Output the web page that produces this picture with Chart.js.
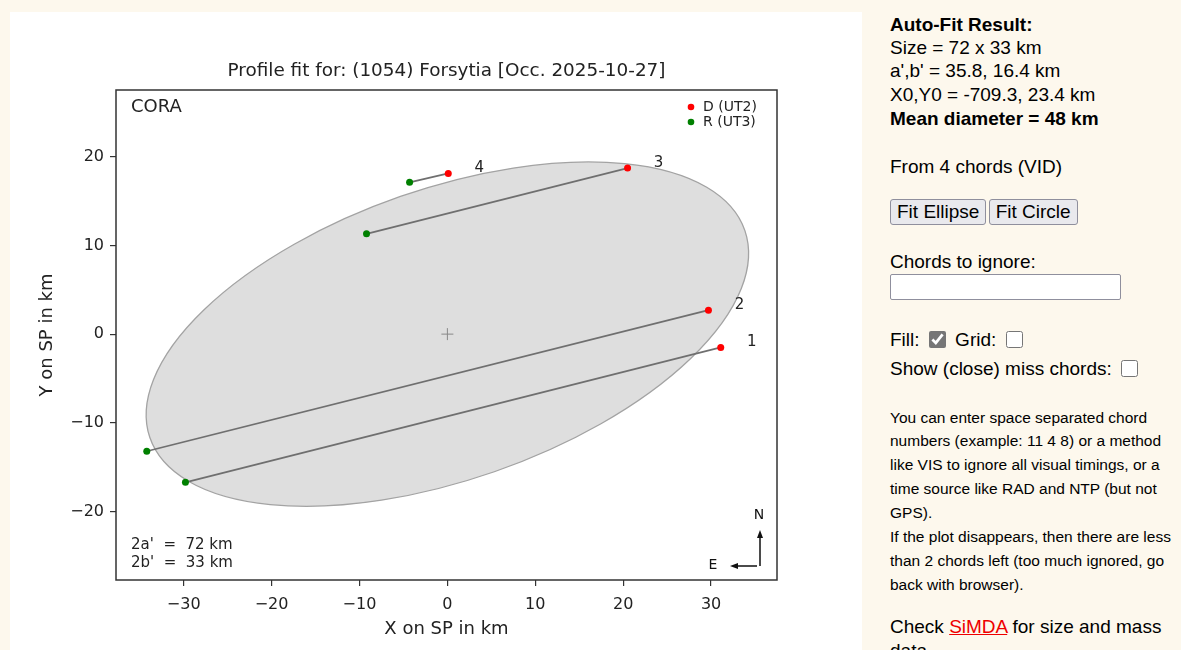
<!DOCTYPE html>
<html>
<head>
<meta charset="utf-8">
<script src="https://cdn.jsdelivr.net/npm/chart.js@4/dist/chart.umd.min.js"></script>
<style>
body{margin:0;background:#fdf8ed;width:1181px;height:650px;overflow:hidden;position:relative;font-family:"Liberation Sans",Arial,sans-serif;color:#000}
#plot{position:absolute;left:10px;top:12px;width:852px;height:638px;background:#fff}
.ln{position:absolute;left:890px;font-size:19px;line-height:22px;white-space:nowrap}
.sm{position:absolute;left:890px;font-size:15.5px;line-height:20px;white-space:nowrap}
button{font-family:"Liberation Sans",Arial,sans-serif;font-size:19px;height:26px;padding:0 6px;background:#e9e9ed;border:1px solid #8f8f9d;border-radius:3px;color:#000}
input[type=text]{position:absolute;left:890px;top:274px;width:227px;height:22px;border:1px solid #8f8f9d;border-radius:2px;padding:1px;background:#fff}
input[type=checkbox]{width:17px;height:17px;margin:0 4px;vertical-align:-2px;accent-color:#767676}
a{color:#e00;text-decoration:underline}
</style>
</head>
<body>
<div id="plot"><canvas id="fit" width="852" height="638"></canvas></div>

<div class="ln" style="top:14px"><b>Auto-Fit Result:</b></div>
<div class="ln" style="top:37px">Size = 72 x 33 km</div>
<div class="ln" style="top:60px">a',b' = 35.8, 16.4 km</div>
<div class="ln" style="top:84px">X0,Y0 = -709.3, 23.4 km</div>
<div class="ln" style="top:108px"><b>Mean diameter = 48 km</b></div>
<div class="ln" style="top:156px">From 4 chords (VID)</div>
<div class="ln" style="top:199px;left:890px"><button>Fit Ellipse</button> <button style="margin-left:-3px">Fit Circle</button></div>
<div class="ln" style="top:251px">Chords to ignore:</div>
<input type="text">
<div class="ln" style="top:329px">Fill: <input type="checkbox" checked> Grid: <input type="checkbox"></div>
<div class="ln" style="top:358px">Show (close) miss chords: <input type="checkbox"></div>
<div class="sm" style="top:408px">You can enter space separated chord</div>
<div class="sm" style="top:431px">numbers (example: 11 4 8) or a method</div>
<div class="sm" style="top:455px">like VIS to ignore all visual timings, or a</div>
<div class="sm" style="top:479px">time source like RAD and NTP (but not</div>
<div class="sm" style="top:503px">GPS).</div>
<div class="sm" style="top:527px">If the plot disappears, then there are less</div>
<div class="sm" style="top:551px">than 2 chords left (too much ignored, go</div>
<div class="sm" style="top:575px">back with browser).</div>
<div class="ln" style="top:616px">Check <a>SiMDA</a> for size and mass</div>
<div class="ln" style="top:640px">data</div>

<script>
// ---- data ----
const xTicks = [-30, -20, -10, 0, 10, 20, 30];
const yTicks = [-20, -10, 0, 10, 20];
const chordNo = ["1", "2", "3", "4"];
const dX = [31.1, 29.7, 20.5, 0.1];     // D (UT2) ends
const dY = [-1.5, 2.7, 18.7, 18.1];
const rX = [-29.8, -34.2, -9.2, -4.3];  // R (UT3) ends
const rY = [-16.7, -13.2, 11.3, 17.1];
const ellCenter = [0, 0];
const ellAB = [35.8, 16.4];
const ellAngle = 19;   // deg
const plotTitle = "Profile fit for: (1054) Forsytia [Occ. 2025-10-27]";
const sizeText = ["2a'  =  72 km", "2b'  =  33 km"];

const DV = "'DejaVu Sans', sans-serif";
const minus = v => v < 0 ? "\u2212" + Math.abs(v) : "" + v;

// ellipse fill drawn under the chords
const ellipsePlugin = {
    id: "ellipse",
    beforeDatasetsDraw(chart){
        const ctx = chart.ctx, xs = chart.scales.x, ys = chart.scales.y, a = chart.chartArea;
        const cx = xs.getPixelForValue(ellCenter[0]), cy = ys.getPixelForValue(ellCenter[1]);
        const kx = xs.getPixelForValue(1) - xs.getPixelForValue(0);
        const ky = ys.getPixelForValue(0) - ys.getPixelForValue(1);
        ctx.save();
        ctx.beginPath();
        ctx.rect(a.left, a.top, a.right - a.left, a.bottom - a.top);
        ctx.clip();
        ctx.beginPath();
        ctx.save();
        ctx.translate(cx, cy);
        ctx.scale(kx, -ky);
        ctx.rotate(ellAngle * Math.PI / 180);
        ctx.ellipse(0, 0, ellAB[0], ellAB[1], 0, 0, 2 * Math.PI);
        ctx.restore();
        ctx.fillStyle = "#dedede";
        ctx.fill();
        ctx.strokeStyle = "#a3a3a3";
        ctx.lineWidth = 1.3;
        ctx.stroke();
        ctx.restore();
    }
};

// frame, title, texts, legend, N/E arrows
const decoPlugin = {
    id: "deco",
    afterDraw(chart){
        const ctx = chart.ctx, a = chart.chartArea, xs = chart.scales.x, ys = chart.scales.y;
        ctx.save();
        ctx.strokeStyle = "#333";
        ctx.lineWidth = 1.5;
        ctx.strokeRect(a.left, a.top, a.right - a.left, a.bottom - a.top);

        ctx.fillStyle = "#222";
        ctx.textBaseline = "middle";
        ctx.textAlign = "center";
        ctx.font = "18.4px " + DV;
        ctx.fillText(plotTitle, (a.left + a.right) / 2, a.top - 19);

        ctx.textAlign = "left";
        ctx.font = "18px " + DV;
        ctx.fillText("CORA", a.left + 15, a.top + 17);

        ctx.font = "15px " + DV;
        ctx.fillText(sizeText[0], a.left + 15, a.bottom - 35);
        ctx.fillText(sizeText[1], a.left + 15, a.bottom - 17);

        // chord numbers next to D points
        ctx.textAlign = "center";
        for(let i = 0; i < chordNo.length; i++){
            ctx.fillText(chordNo[i], xs.getPixelForValue(dX[i]) + 31, ys.getPixelForValue(dY[i]) - 5);
        }

        // legend
        ctx.font = "14px " + DV;
        ctx.textAlign = "left";
        const lx = a.right - 86;
        [["#ff0000", "D (UT2)", a.top + 17], ["#008000", "R (UT3)", a.top + 32]].forEach(e => {
            ctx.fillStyle = e[0];
            ctx.beginPath();
            ctx.arc(lx, e[2], 3.3, 0, 2 * Math.PI);
            ctx.fill();
            ctx.fillStyle = "#222";
            ctx.fillText(e[1], lx + 12, e[2]);
        });

        // N / E arrows
        const ax = a.right - 17, ay = a.bottom - 14;
        ctx.strokeStyle = "#111";
        ctx.fillStyle = "#111";
        ctx.lineWidth = 1.5;
        ctx.beginPath();
        ctx.moveTo(ax, ay); ctx.lineTo(ax, ay - 30);
        ctx.moveTo(ax - 3, ay); ctx.lineTo(ax - 24, ay);
        ctx.stroke();
        ctx.beginPath();
        ctx.moveTo(ax, ay - 36); ctx.lineTo(ax - 3, ay - 28); ctx.lineTo(ax + 3, ay - 28); ctx.closePath();
        ctx.moveTo(ax - 30, ay); ctx.lineTo(ax - 22, ay - 3); ctx.lineTo(ax - 22, ay + 3); ctx.closePath();
        ctx.fill();
        ctx.font = "14px " + DV;
        ctx.textAlign = "center";
        ctx.fillText("N", ax - 1, ay - 51);
        ctx.fillText("E", ax - 47, ay - 1);
        ctx.restore();
    }
};

const chordSets = chordNo.map((n, i) => ({
    label: "chord " + n,
    data: [{x: rX[i], y: rY[i]}, {x: dX[i], y: dY[i]}],
    showLine: true,
    borderColor: "#6f6f6f",
    borderWidth: 1.7,
    pointRadius: 0,
    order: 2
}));

new Chart(document.getElementById("fit"), {
    type: "scatter",
    data: {
        datasets: [
            {
                label: "D (UT2)",
                data: dX.map((x, i) => ({x: x, y: dY[i]})),
                backgroundColor: "#ff0000",
                borderWidth: 0,
                pointRadius: 3.5,
                order: 0
            },
            {
                label: "R (UT3)",
                data: rX.map((x, i) => ({x: x, y: rY[i]})),
                backgroundColor: "#008000",
                borderWidth: 0,
                pointRadius: 3.5,
                order: 0
            },
            {
                label: "center",
                data: [{x: ellCenter[0], y: ellCenter[1]}],
                pointStyle: "cross",
                pointRadius: 6,
                borderColor: "#888",
                borderWidth: 1,
                order: 1
            },
            ...chordSets
        ]
    },
    options: {
        responsive: false,
        animation: false,
        layout: {padding: {left: 0, top: 78, right: 85, bottom: 0}},
        plugins: {
            legend: {display: false},
            tooltip: {enabled: false},
            title: {display: false}
        },
        scales: {
            x: {
                type: "linear",
                min: -37.7,
                max: 37.5,
                afterBuildTicks: s => { s.ticks = xTicks.map(v => ({value: v})); },
                afterFit: s => { s.height = 70; },
                ticks: {color: "#222", font: {family: DV, size: 16}, padding: 9, callback: minus},
                grid: {display: true, drawOnChartArea: false, drawTicks: true, tickLength: 6, color: "#333", lineWidth: 1.2},
                border: {display: false},
                title: {display: true, text: "X on SP in km", color: "#222", font: {family: DV, size: 18}, padding: {top: 0, bottom: 10}}
            },
            y: {
                type: "linear",
                min: -27.7,
                max: 27.5,
                afterBuildTicks: s => { s.ticks = yTicks.map(v => ({value: v})); },
                afterFit: s => { s.width = 106; },
                ticks: {color: "#222", font: {family: DV, size: 16}, padding: 6, callback: minus},
                grid: {display: true, drawOnChartArea: false, drawTicks: true, tickLength: 6, color: "#333", lineWidth: 1.2},
                border: {display: false},
                title: {display: true, text: "Y on SP in km", color: "#222", font: {family: DV, size: 18}, padding: {top: 27, bottom: 0}}
            }
        }
    },
    plugins: [ellipsePlugin, decoPlugin]
});
</script>
</body>
</html>
